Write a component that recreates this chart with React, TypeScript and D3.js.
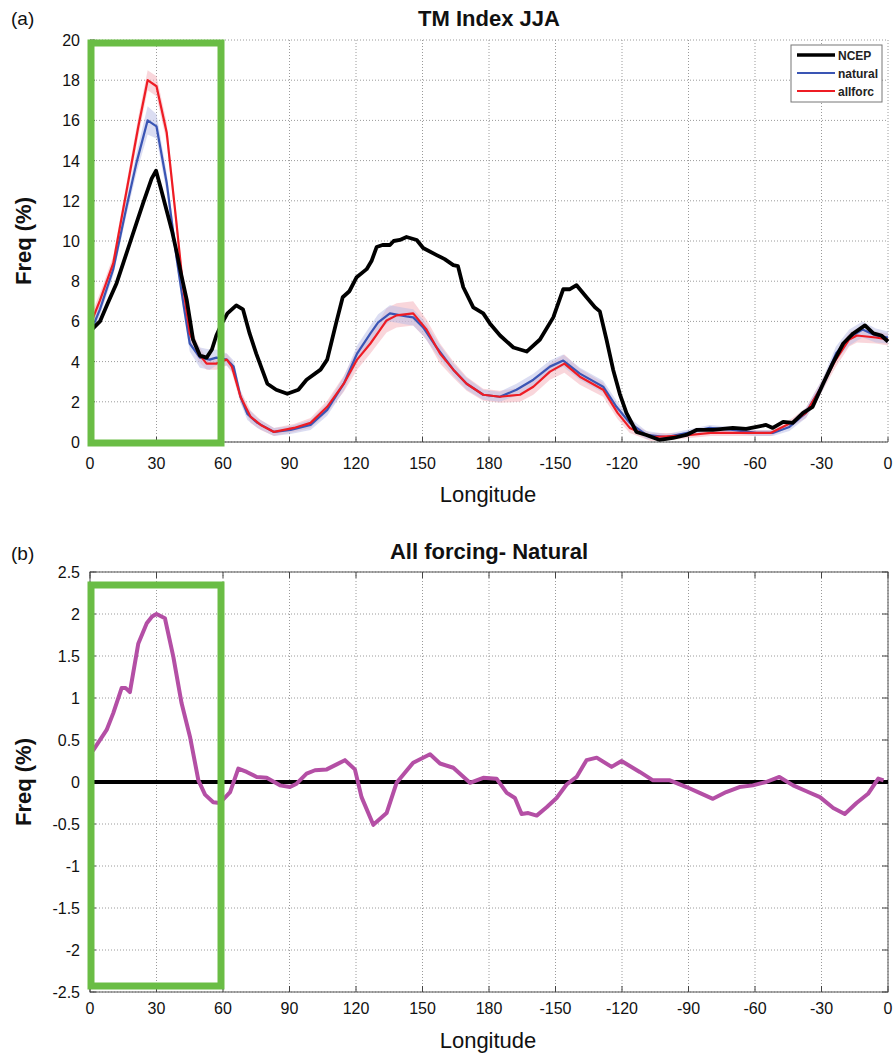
import React from "react";
import * as d3 from "d3";

// ---------- DATA ----------
const lonTicks = [0, 30, 60, 90, 120, 150, 180, 210, 240, 270, 300, 330, 360];
const lonTickLabels = ["0", "30", "60", "90", "120", "150", "180", "-150", "-120", "-90", "-60", "-30", "0"];
const yTicksA = [0, 2, 4, 6, 8, 10, 12, 14, 16, 18, 20];
const yTicksB = [-2.5, -2, -1.5, -1, -0.5, 0, 0.5, 1, 1.5, 2, 2.5];

// [longitude (0..360 east), freq %]
const ncep: [number, number][] = [
  [0, 5.5], [4.5, 6.0], [8, 6.9], [12, 7.9], [15, 8.9], [18, 9.9], [21, 10.9], [24, 11.9], [27.8, 13.1], [29.8, 13.5],
  [32, 12.6], [34.6, 11.5], [37, 10.5], [39, 9.5], [41, 8.4], [43.6, 7.1], [46.5, 5.1], [49.6, 4.3], [52.6, 4.2], [55, 4.6],
  [57, 5.3], [59.5, 5.9], [62, 6.4], [66, 6.8], [69, 6.6], [72, 5.4], [75, 4.4], [78, 3.5], [80, 2.9], [84, 2.6],
  [89, 2.4], [94, 2.6], [97.7, 3.1], [104, 3.6], [107, 4.1], [109, 5.0], [111, 5.9], [114, 7.2], [117, 7.5], [120.3, 8.2],
  [124.8, 8.6], [127, 9.0], [129.3, 9.7], [132, 9.8], [135.3, 9.8], [137, 10.0], [139.8, 10.05], [142.8, 10.2], [147.4, 10.05], [150.3, 9.65],
  [156.4, 9.3], [160, 9.1], [163.9, 8.8], [166, 8.75], [168.4, 7.7], [172.9, 6.7], [177.4, 6.4], [180.4, 5.9], [185, 5.3], [191, 4.7],
  [197, 4.5], [203, 5.1], [209, 6.2], [213.5, 7.6], [216.5, 7.6], [219.5, 7.8], [224, 7.2], [227.8, 6.7], [230, 6.5], [233, 5.1],
  [236, 3.6], [239, 2.4], [242, 1.45], [246.5, 0.5], [251, 0.35], [257, 0.1], [263, 0.2], [269, 0.35], [273.6, 0.6], [281, 0.6],
  [290, 0.7], [296, 0.65], [300.7, 0.75], [305, 0.85], [308, 0.7], [312.7, 1.0], [317, 0.95], [321.7, 1.45], [326, 1.75], [330.7, 2.9],
  [335, 3.9], [339.8, 4.9], [344.3, 5.4], [349.6, 5.8], [353.4, 5.4], [357, 5.3], [360, 5.0],
];

// [longitude, mean, spread]
const natural: [number, number, number][] = [
  [0, 5.4, 0.4], [4.5, 6.6, 0.3], [10.5, 8.6, 0.3], [16.5, 11.7, 0.4], [21, 13.9, 0.5], [26, 16.0, 0.7], [30, 15.7, 0.6],
  [34.6, 12.9, 0.5], [39, 9.2, 0.4], [42.1, 6.9, 0.4], [45, 4.9, 0.4], [49.6, 4.2, 0.5], [54, 4.1, 0.5], [57, 4.2, 0.4],
  [61.7, 4.1, 0.3], [64.8, 3.75, 0.3], [67.9, 2.25, 0.3], [71, 1.4, 0.3], [75.5, 0.95, 0.25], [83, 0.5, 0.2], [90.5, 0.6, 0.2],
  [99.5, 0.85, 0.25], [107, 1.6, 0.3], [114.5, 2.9, 0.35], [120.5, 4.4, 0.4], [126.5, 5.4, 0.4], [130, 5.95, 0.4], [135.3, 6.4, 0.4],
  [142.8, 6.25, 0.4], [145.8, 6.2, 0.4], [150.3, 5.7, 0.4], [156.4, 4.7, 0.35], [163.9, 3.6, 0.3], [169.9, 2.9, 0.3], [177.4, 2.35, 0.25],
  [184.9, 2.25, 0.25], [192.4, 2.6, 0.3], [200, 3.1, 0.3], [207.5, 3.75, 0.3], [213.5, 4.05, 0.3], [221, 3.4, 0.3], [231.5, 2.75, 0.3],
  [237.5, 1.75, 0.3], [243.5, 0.95, 0.25], [251, 0.35, 0.2], [260, 0.25, 0.15], [269, 0.45, 0.15], [279.5, 0.7, 0.15], [290, 0.6, 0.15],
  [300.7, 0.45, 0.15], [308, 0.45, 0.15], [315.5, 0.75, 0.2], [323, 1.45, 0.25], [330.7, 2.9, 0.3], [336.5, 4.4, 0.35], [342.5, 5.2, 0.4],
  [348.5, 5.6, 0.4], [354.5, 5.3, 0.35], [360, 5.2, 0.3],
];

const allforc: [number, number, number][] = [
  [0, 5.8, 0.4], [4.5, 7.05, 0.35], [10.5, 8.9, 0.35], [16.5, 12.5, 0.4], [21.8, 15.7, 0.5], [26, 18.0, 0.5], [30, 17.7, 0.5],
  [34.6, 15.4, 0.5], [39, 10.9, 0.4], [42, 7.7, 0.4], [45, 5.4, 0.4], [49, 4.4, 0.4], [52.6, 3.9, 0.3], [57, 3.9, 0.3],
  [61.7, 4.1, 0.3], [64, 3.75, 0.3], [67.9, 2.25, 0.3], [72.5, 1.25, 0.3], [77, 0.85, 0.25], [83, 0.5, 0.2], [92, 0.7, 0.2],
  [99.5, 0.95, 0.25], [107, 1.75, 0.3], [114.5, 2.9, 0.4], [120.5, 4.1, 0.5], [126.5, 4.9, 0.5], [131, 5.6, 0.55], [133.8, 6.05, 0.6],
  [138.3, 6.3, 0.6], [145.8, 6.4, 0.6], [151.8, 5.6, 0.5], [157.9, 4.4, 0.5], [163.9, 3.6, 0.4], [169.9, 2.9, 0.35], [177.4, 2.35, 0.3],
  [184.9, 2.25, 0.3], [194, 2.35, 0.35], [200, 2.75, 0.4], [207.5, 3.5, 0.4], [214, 3.9, 0.45], [221, 3.25, 0.4], [231.5, 2.6, 0.35],
  [238, 1.45, 0.3], [243.5, 0.7, 0.25], [253, 0.25, 0.2], [266, 0.3, 0.15], [280, 0.45, 0.15], [293, 0.45, 0.15], [307, 0.45, 0.15],
  [317, 1.0, 0.2], [323, 1.45, 0.25], [330, 2.75, 0.3], [336.5, 4.1, 0.35], [342.5, 5.1, 0.35], [346, 5.3, 0.35], [354.5, 5.2, 0.3],
  [360, 5.1, 0.3],
];

// All forcing minus Natural
const diff: [number, number][] = [
  [0, 0.35], [1.5, 0.38], [7.5, 0.62], [10.5, 0.82], [14.3, 1.12], [16, 1.12], [18, 1.07], [21.8, 1.65], [25.6, 1.89], [28, 1.97],
  [30, 2.0], [33.8, 1.95], [37.6, 1.49], [41.3, 0.94], [45.1, 0.54], [48.9, 0.02], [51.9, -0.15], [55.6, -0.24], [58.6, -0.25], [63.2, -0.12],
  [66.9, 0.16], [70.7, 0.12], [75.2, 0.06], [79.7, 0.05], [85.7, -0.04], [90.2, -0.06], [93.2, -0.02], [97.7, 0.1], [101.5, 0.14], [106.8, 0.15],
  [111.3, 0.21], [115, 0.26], [119.5, 0.15], [122.5, -0.18], [127.8, -0.51], [133.8, -0.37], [138.3, -0.01], [145.8, 0.23], [153.4, 0.33], [157.9, 0.22],
  [163.9, 0.17], [171.4, -0.01], [177.4, 0.05], [183.4, 0.04], [188, -0.13], [191.7, -0.19], [194.7, -0.38], [197.7, -0.37], [201.5, -0.4], [206, -0.3],
  [210.5, -0.19], [215, -0.03], [219.5, 0.06], [224, 0.26], [228.6, 0.29], [235.3, 0.18], [239.8, 0.25], [248, 0.12], [254, 0.02], [261.6, 0.02],
  [269.1, -0.06], [275, -0.13], [281, -0.2], [287, -0.12], [293, -0.06], [299, -0.04], [305, 0.0], [311, 0.06], [317.2, -0.04], [323.2, -0.11],
  [329.3, -0.18], [335.3, -0.31], [340.5, -0.38], [345.8, -0.25], [351, -0.14], [355.6, 0.04], [358, 0.02],
];

const boxLon = [0, 60];
const legendItems = [
  { label: "NCEP", color: "#000000", width: 3.5 },
  { label: "natural", color: "#3a55b4", width: 2 },
  { label: "allforc", color: "#ee1c24", width: 2 },
];

// ---------- LAYOUT ----------
const W = 893;
const H = 1057;
const X0 = 90;
const X1 = 888;
const font = "'Liberation Sans', Arial, Helvetica, sans-serif";
const gridColor = "#9a9a9a";
const tickFont = 16;

const x = d3.scaleLinear().domain([0, 360]).range([X0, X1]);
const yA = d3.scaleLinear().domain([0, 20]).range([442, 40]);
const yB = d3.scaleLinear().domain([-2.5, 2.5]).range([992, 572]);

function Grid({ y, ticks, top, bottom }: { y: d3.ScaleLinear<number, number>; ticks: number[]; top: number; bottom: number }) {
  return (
    <g>
      {lonTicks.map((t, i) => (
        <line key={"gx" + i} x1={x(t)} x2={x(t)} y1={top} y2={bottom} stroke={gridColor} strokeWidth={1} strokeDasharray="1,2" />
      ))}
      {ticks.map((t, i) => (
        <line key={"gy" + i} x1={X0} x2={X1} y1={y(t)} y2={y(t)} stroke={gridColor} strokeWidth={1} strokeDasharray="1,2" />
      ))}
    </g>
  );
}

function XLabels({ yPos, titleY }: { yPos: number; titleY: number }) {
  return (
    <g>
      {lonTicks.map((t, i) => (
        <text key={i} x={x(t)} y={yPos} textAnchor="middle" fontSize={tickFont} fontFamily={font} fill="#111">
          {lonTickLabels[i]}
        </text>
      ))}
      <text x={488} y={titleY} textAnchor="middle" fontSize={22} fontFamily={font} fill="#111">
        Longitude
      </text>
    </g>
  );
}

export default function App() {
  const lineA = d3
    .line<[number, number]>()
    .x((d) => x(d[0]))
    .y((d) => yA(d[1]));
  const lineA3 = d3
    .line<[number, number, number]>()
    .x((d) => x(d[0]))
    .y((d) => yA(d[1]));
  const band = d3
    .area<[number, number, number]>()
    .x((d) => x(d[0]))
    .y0((d) => yA(Math.max(0, d[1] - d[2])))
    .y1((d) => yA(d[1] + d[2]));
  const lineB = d3
    .line<[number, number]>()
    .x((d) => x(d[0]))
    .y((d) => yB(d[1]));

  return (
    <svg width={W} height={H} style={{ position: "absolute", left: 0, top: 0, background: "#fff" }}>
      <rect width={W} height={H} fill="#fff" />

      {/* ---------- Panel (a) ---------- */}
      <text x={11} y={25} fontSize={19} fontFamily={font} fill="#111">(a)</text>
      <text x={489} y={26} textAnchor="middle" fontSize={22} fontWeight="bold" fontFamily={font} fill="#111">
        TM Index JJA
      </text>
      <Grid y={yA} ticks={yTicksA} top={40} bottom={442} />
      <path d={band(allforc) || ""} fill="#f4b4bd" fillOpacity={0.55} />
      <path d={band(natural) || ""} fill="#b7bbe6" fillOpacity={0.5} />
      <path d={lineA3(natural) || ""} fill="none" stroke="#3a55b4" strokeWidth={2.2} strokeLinejoin="round" />
      <path d={lineA3(allforc) || ""} fill="none" stroke="#ee1c24" strokeWidth={2.2} strokeLinejoin="round" />
      <path d={lineA(ncep) || ""} fill="none" stroke="#000" strokeWidth={3.8} strokeLinejoin="round" />
      {/* axes */}
      <line x1={X0} x2={X1} y1={442} y2={442} stroke="#444" strokeWidth={1} />
      <line x1={X0} x2={X0} y1={40} y2={442} stroke="#444" strokeWidth={1} />
      {lonTicks.map((t, i) => (
        <line key={"tka" + i} x1={x(t)} x2={x(t)} y1={442} y2={437} stroke="#444" />
      ))}
      {yTicksA.map((t, i) => (
        <g key={"yla" + i}>
          <line x1={X0} x2={X0 + 5} y1={yA(t)} y2={yA(t)} stroke="#444" />
          <text x={80} y={yA(t) + 6} textAnchor="end" fontSize={tickFont} fontFamily={font} fill="#111">
            {t}
          </text>
        </g>
      ))}
      <XLabels yPos={469} titleY={502} />
      <text
        transform={`translate(31,${yA(10)}) rotate(-90)`}
        textAnchor="middle"
        fontSize={22}
        fontWeight="bold"
        fontFamily={font}
        fill="#111"
      >
        Freq (%)
      </text>
      {/* legend */}
      <g>
        <rect x={791} y={45} width={91} height={57} fill="#fff" stroke="#777" strokeWidth={1} />
        {legendItems.map((it, i) => (
          <g key={it.label}>
            <line x1={797} x2={835} y1={55 + i * 18} y2={55 + i * 18} stroke={it.color} strokeWidth={it.width} />
            <text x={838} y={59.5 + i * 18} fontSize={12} fontWeight="bold" fontFamily={font} fill="#222">
              {it.label}
            </text>
          </g>
        ))}
      </g>
      {/* green box */}
      <rect
        x={x(boxLon[0]) + 1}
        y={43}
        width={x(boxLon[1]) - x(boxLon[0]) - 3}
        height={400}
        fill="none"
        stroke="#6abd45"
        strokeWidth={7}
      />

      {/* ---------- Panel (b) ---------- */}
      <text x={11} y={560} fontSize={19} fontFamily={font} fill="#111">(b)</text>
      <text x={489} y={559} textAnchor="middle" fontSize={22} fontWeight="bold" fontFamily={font} fill="#111">
        All forcing- Natural
      </text>
      <Grid y={yB} ticks={yTicksB} top={572} bottom={992} />
      <rect x={X0} y={572} width={X1 - X0} height={420} fill="none" stroke="#555" strokeWidth={1} />
      {lonTicks.map((t, i) => (
        <g key={"tkb" + i}>
          <line x1={x(t)} x2={x(t)} y1={992} y2={986} stroke="#444" />
          <line x1={x(t)} x2={x(t)} y1={572} y2={578} stroke="#444" />
        </g>
      ))}
      {yTicksB.map((t, i) => (
        <g key={"ylb" + i}>
          <line x1={X0} x2={X0 + 6} y1={yB(t)} y2={yB(t)} stroke="#444" />
          <line x1={X1} x2={X1 - 6} y1={yB(t)} y2={yB(t)} stroke="#444" />
          <text x={80} y={yB(t) + 6} textAnchor="end" fontSize={tickFont} fontFamily={font} fill="#111">
            {t}
          </text>
        </g>
      ))}
      <line x1={X0} x2={X1} y1={yB(0)} y2={yB(0)} stroke="#000" strokeWidth={4} />
      <path d={lineB(diff) || ""} fill="none" stroke="#b44fa5" strokeWidth={4} strokeLinejoin="round" />
      <XLabels yPos={1014} titleY={1048} />
      <text
        transform={`translate(31,${yB(0)}) rotate(-90)`}
        textAnchor="middle"
        fontSize={22}
        fontWeight="bold"
        fontFamily={font}
        fill="#111"
      >
        Freq (%)
      </text>
      <rect
        x={x(boxLon[0]) + 1}
        y={585}
        width={x(boxLon[1]) - x(boxLon[0]) - 3}
        height={401}
        fill="none"
        stroke="#6abd45"
        strokeWidth={7}
      />
    </svg>
  );
}
